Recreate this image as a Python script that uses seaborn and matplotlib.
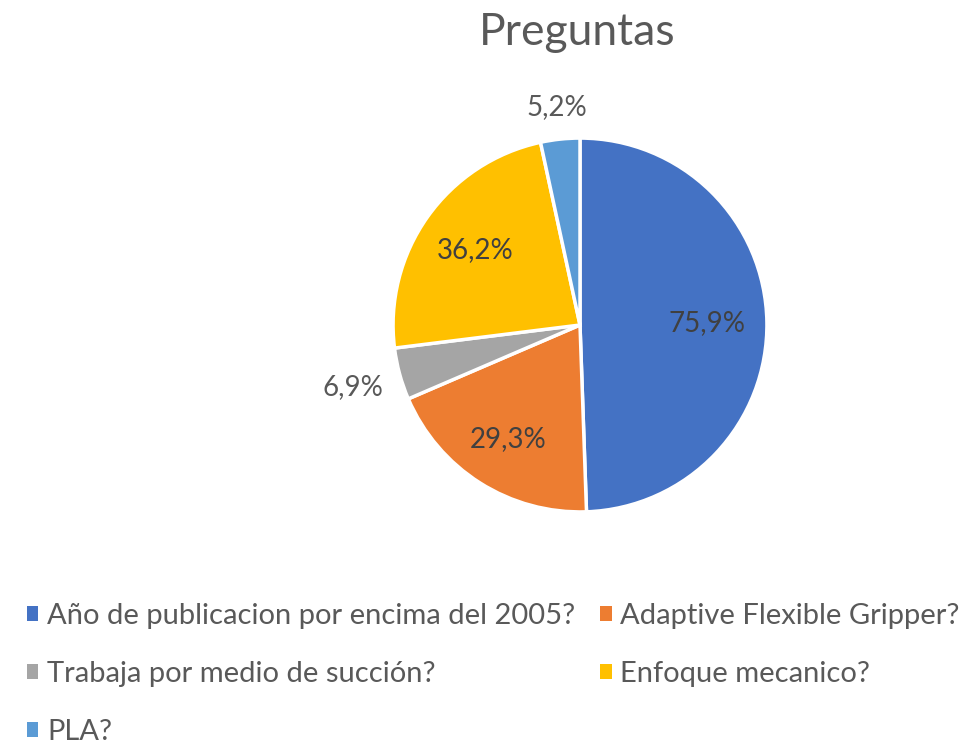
import numpy as np
import matplotlib
matplotlib.use("Agg")
import matplotlib.pyplot as plt
import seaborn as sns

categories = ["Año de publicacion por encima del 2005?", "Adaptive Flexible Gripper?",
              "Trabaja por medio de succión?", "Enfoque mecanico?", "PLA?"]
values = [75.9, 29.3, 6.9, 36.2, 5.2]
value_labels = ["75,9%", "29,3%", "6,9%", "36,2%", "5,2%"]
colors = ["#4472C4", "#ED7D31", "#A5A5A5", "#FFC000", "#5B9BD5"]
label_dist = [0.68, 0.72, 1.26, 0.69, 1.17]

sns.set_theme(style="white")
plt.rcParams['font.family'] = ['Lato', 'DejaVu Sans']
text_color = "#595959"

fig = plt.figure(figsize=(9.73, 7.5), dpi=100)
ax = fig.add_axes([337/973, 182/750, 486/973, 486/750])
wedges, _ = ax.pie(values, colors=colors, startangle=90, counterclock=False,
                   wedgeprops=dict(edgecolor="white", linewidth=2.5))
ax.set_xlim(-1.3, 1.3)
ax.set_ylim(-1.3, 1.3)
ax.set_aspect("equal")
ax.axis("off")

for w, lab, d in zip(wedges, value_labels, label_dist):
    ang = np.deg2rad((w.theta1 + w.theta2) / 2)
    ax.text(d * np.cos(ang), d * np.sin(ang), lab, ha="center", va="center",
            fontsize=20, color="#404040" if d < 1 else text_color)

fig.text(0.593, 0.957, "Preguntas", ha="center", va="center", fontsize=32, color=text_color)

order = [0, 2, 4, 1, 3]
leg = fig.legend([wedges[i] for i in order], [categories[i] for i in order],
                 loc="upper left", bbox_to_anchor=(12/973, 1 - 588/750), ncol=2,
                 frameon=False, fontsize=21, handlelength=0.4, handleheight=0.4,
                 handletextpad=0.3, labelspacing=1.1, columnspacing=0.85,
                 borderpad=0.0)
for t in leg.get_texts():
    t.set_color(text_color)
for h in leg.legend_handles:
    h.set_edgecolor("none")

fig.savefig("out.png", dpi=100)
